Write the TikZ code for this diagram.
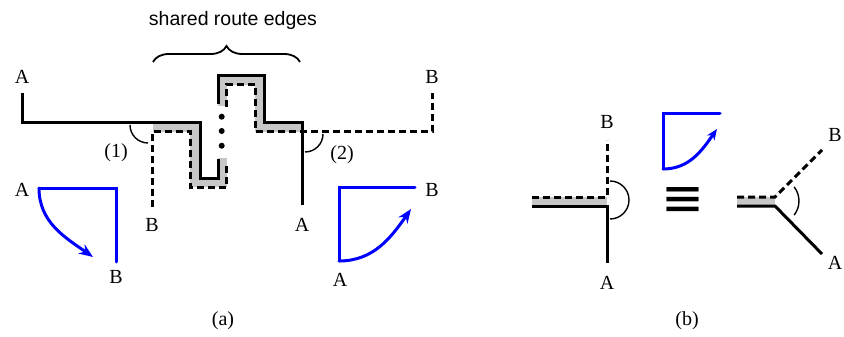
\documentclass[tikz,border=0pt]{standalone}
\usepackage{fontspec}
\setmainfont{Liberation Serif}
\setsansfont{Liberation Sans}
\newfontfamily\simbolo{DejaVu Sans}
\usepackage{graphicx}
\usepackage{tikz}
\usetikzlibrary{
	arrows.meta,
	decorations.pathreplacing
}

\begin{document}
\begin{tikzpicture}[
			x=1pt, y=1pt,
			font=\fontsize{20}{24}\selectfont,
			cheia/.style={line width=3pt},
			trac/.style={line width=3pt, dash pattern=on 7pt off 4pt},
			faixa/.style={line width=9.5pt, draw=black!22},
			giro/.style={draw=blue, line width=3pt, line cap=round},
			ang/.style={line width=1.4pt},
			>={Stealth[length=14pt, width=11pt]}
		]
		\useasboundingbox (0,0) rectangle (844,-337);

		\node (tit) at (233,-20) {\sffamily\fontsize{19.5}{23}\selectfont shared route edges};
		\draw[line width=1.8pt, decorate, decoration={brace, amplitude=16pt}] (153,-62) -- (300,-62);

		\draw[faixa] (153,-126.8) -- (195,-126.8) -- (195,-182.5) -- (222.3,-182.5) -- (222.3,-158);
		\draw[faixa] (222.3,-106) -- (222.3,-80) -- (259.7,-80) -- (259.7,-126.8) -- (302,-126.8);

		\draw[cheia] (22,-93) -- (22,-122) -- (200,-122) -- (200,-178) -- (218,-178) -- (218,-159);
		\draw[cheia] (218,-104) -- (218,-75.5) -- (264,-75.5) -- (264,-122) -- (302,-122) -- (302,-205);
		\draw[trac] (152,-207) -- (152,-131.5) -- (190,-131.5) -- (190,-187) -- (226.5,-187) -- (226.5,-162);
		\draw[trac] (226.5,-107) -- (226.5,-84.5) -- (255.5,-84.5) -- (255.5,-131.5) -- (432,-131.5) -- (432,-93);
		\foreach \y in {116.7,131,145.7}
			\fill (221.7,-\y) circle (3);

		\draw[ang] (130,-125) arc[start angle=180, end angle=270, radius=18];
		\draw[ang] (323,-134) arc[start angle=0, end angle=-90, radius=18];

		\node (aA) at (22,-77) {A};
		\node (aB) at (432,-77) {B};
		\node (bB) at (152,-225) {B};
		\node (bA) at (302,-225) {A};
		\node (um) at (116,-153) {(1)};
		\node (dois) at (342,-155) {(2)};

		\draw[giro] (39,-188) -- (116,-188) -- (116,-262);
		\draw[giro, ->] (39,-188) to[out=-90, in=145] (93,-257);
		\node (gA1) at (22,-190) {A};
		\node (gB1) at (116,-277) {B};

		\draw[giro] (415,-187) -- (339,-187) -- (339,-261);
		\draw[giro, ->] (339,-261) to[out=0, in=235] (411,-209);
		\node (gB2) at (432,-190) {B};
		\node (gA2) at (340,-280) {A};

		\node (rota) at (223,-321) {(a)};

		\draw[faixa] (532,-201.5) -- (607,-201.5);
		\draw[trac] (532,-197) -- (607,-197) -- (607,-140);
		\draw[cheia] (532,-206) -- (607,-206) -- (607,-263);
		\draw[ang] (610,-181) arc[start angle=90, end angle=-90, radius=19];
		\node (jB) at (607,-122) {B};
		\node (jA) at (607,-283) {A};

		\draw[giro] (720,-113) -- (663,-113) -- (663,-169);
		\draw[giro, ->, >={Stealth[length=11pt, width=9pt]}] (663,-169) to[out=0, in=235] (717,-129);

		\node[inner sep=0pt] (eq) at (682.5,-201.5) {\resizebox*{43pt}{29pt}{\simbolo ≡}};

		\draw[faixa] (737,-201.5) -- (775,-201.5);
		\draw[trac] (737,-197) -- (775,-197) -- (822,-150);
		\draw[cheia] (737,-206) -- (775,-206) -- (822,-254);
		\draw[ang] (794.1,-186.8) arc[start angle=38, end angle=-38, radius=23];
		\node (kB) at (835,-135) {B};
		\node (kA) at (835,-263) {A};

		\node (junc) at (687,-321) {(b)};
	\end{tikzpicture}
\end{document}
